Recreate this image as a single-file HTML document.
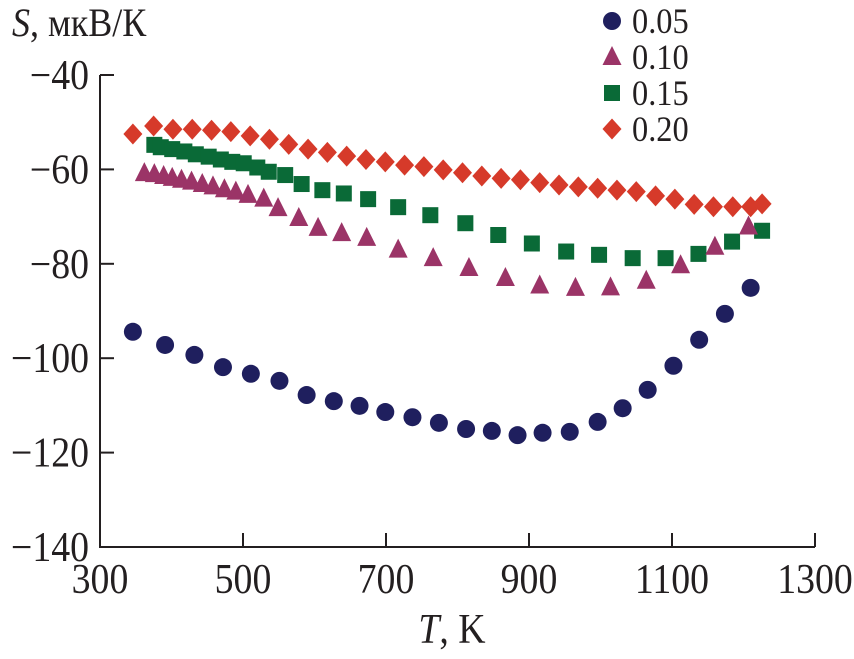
<!DOCTYPE html>
<html><head><meta charset="utf-8"><style>
body{margin:0;background:#fff}
svg text{font-family:"Liberation Serif","Times New Roman",serif;fill:#231f20}
</style></head><body>
<svg width="854" height="654" viewBox="0 0 854 654">
<g id="axes"></g>
<g id="marks"></g>
<g id="legend"></g>
</svg>
<script>
const xTicks=[300,500,700,900,1100,1300];
const yTicks=[-40,-60,-80,-100,-120,-140];
const yTickLabels=["\u221240","\u221260","\u221280","\u2212100","\u2212120","\u2212140"];
const seriesNames=["0.05","0.10","0.15","0.20"];
const t005=[346,391,432,472,511,551,589,627,663,699,737,774,812,848,884,919,957,996,1031,1066,1102,1138,1174,1210];
const s005=[-94.4,-97.2,-99.3,-101.9,-103.3,-104.8,-107.8,-109.1,-110.1,-111.4,-112.5,-113.7,-115,-115.4,-116.3,-115.8,-115.6,-113.5,-110.6,-106.7,-101.6,-96.1,-90.6,-85.1];
const t010=[362,376,389,401,414,428,443,458,474,490,507,529,549,578,605,638,673,717,766,816,867,915,965,1014,1064,1112,1160,1207];
const s010=[-60.8,-61,-61.4,-61.8,-62.2,-62.6,-63.1,-63.6,-64.2,-64.7,-65.4,-66.2,-68.2,-70.3,-72.4,-73.5,-74.5,-77,-78.8,-80.9,-83,-84.6,-85.1,-85,-83.6,-80.3,-76.4,-72.1];
const t015=[376,385,401,418,434,452,469,485,501,520,536,559,582,611,641,675,717,762,811,857,904,952,998,1045,1091,1137,1184,1226];
const s015=[-54.8,-55.3,-55.7,-56.2,-56.8,-57.3,-57.9,-58.4,-58.7,-59.6,-60.5,-61.2,-63.1,-64.4,-65.1,-66.3,-68,-69.7,-71.4,-73.9,-75.7,-77.4,-78.1,-78.8,-78.8,-77.9,-75.3,-73];
const t020=[346,375,402,429,456,483,510,537,564,591,618,645,672,699,726,753,780,807,834,861,888,915,942,969,996,1023,1050,1077,1104,1131,1158,1185,1210,1226];
const s020=[-52.5,-50.8,-51.5,-51.5,-51.7,-52,-52.9,-53.6,-54.7,-55.7,-56.4,-57.2,-57.9,-58.4,-59.1,-59.4,-60.1,-60.7,-61.4,-61.9,-62.2,-62.8,-63.3,-63.7,-64,-64.4,-64.7,-65.6,-66.3,-67.4,-67.9,-67.9,-67.9,-67.3];

const NS="http://www.w3.org/2000/svg";
const X=t=>100+(t-300)*0.715;
const Y=s=>75+(-40-s)*4.72;
function mk(tag,attrs,parent,text){const e=document.createElementNS(NS,tag);for(const k in attrs)e.setAttribute(k,attrs[k]);if(text!==undefined)e.textContent=text;parent.appendChild(e);return e;}
function txt(x,y,size,anchor,parent,content,html){
  const e=mk('text',{transform:`translate(${x},${y}) scale(0.9,1)`,'font-size':size,'text-anchor':anchor,'font-family':'Liberation Serif, serif'},parent);
  if(html)e.innerHTML=content;else e.textContent=content;return e;
}
const axes=document.getElementById('axes'),marks=document.getElementById('marks'),legend=document.getElementById('legend');
let e=mk('path',{d:`M${X(300)},${Y(-40)}V${Y(-140)}H${X(1300)}`,stroke:'#231f20','stroke-width':2,fill:'none'},axes);


xTicks.forEach(t=>{
  if(t>300){let l=mk('line',{x1:X(t),x2:X(t),y1:Y(-140),y2:Y(-140)-14,stroke:'#231f20','stroke-width':2},axes);
  
  }
  let tx=txt(X(t),593,42,'middle',axes,String(t));
  
  
});
yTicks.forEach((s,i)=>{
  if(s>-140){let l=mk('line',{x1:X(300),x2:X(300)+14,y1:Y(s),y2:Y(s),stroke:'#231f20','stroke-width':2},axes);
  
  }
  let tx=txt(89,Y(s)+14,42,'end',axes,yTickLabels[i]);
  
  
});
let yt=txt(12,36,40,'start',axes,'<tspan font-style="italic">S</tspan>, мкВ/К',true);


let xt=txt(452,643,42,'middle',axes,'<tspan font-style="italic">T</tspan>, K',true);



const colors=['#1f1f5e','#9b3467','#0a6a37','#d63a2a'];
function marker(type,cx,cy,parent){
  if(type===0)return mk('circle',{cx,cy,r:9,fill:colors[0]},parent);
  if(type===1)return mk('polygon',{points:`${cx},${cy-11} ${cx+9.5},${cy+8} ${cx-9.5},${cy+8}`,fill:colors[1]},parent);
  if(type===2)return mk('rect',{x:cx-8,y:cy-8,width:16,height:16,fill:colors[2]},parent);
  return mk('polygon',{points:`${cx},${cy-10.5} ${cx+9.5},${cy} ${cx},${cy+10.5} ${cx-9.5},${cy}`,fill:colors[3]},parent);
}
const data=[[t005,s005],[t010,s010],[t015,s015],[t020,s020]];
const names=['point-005','point-010','point-015','point-020'];
[3,2,1,0].forEach(k=>{
  const g=mk('g',{},marks);
  
  
  data[k][0].forEach((t,i)=>{
    const m=marker(k,X(t),Y(data[k][1][i]),g);
    
    
  });
});
seriesNames.forEach((n,k)=>{
  const y=21+k*36;
  const g=mk('g',{},legend);
  
  
  const m=marker(k,612,y,g);
  
  
  const tx=txt(632,y+12,36,'start',g,n);
  
  
});
</script>
</body></html>
